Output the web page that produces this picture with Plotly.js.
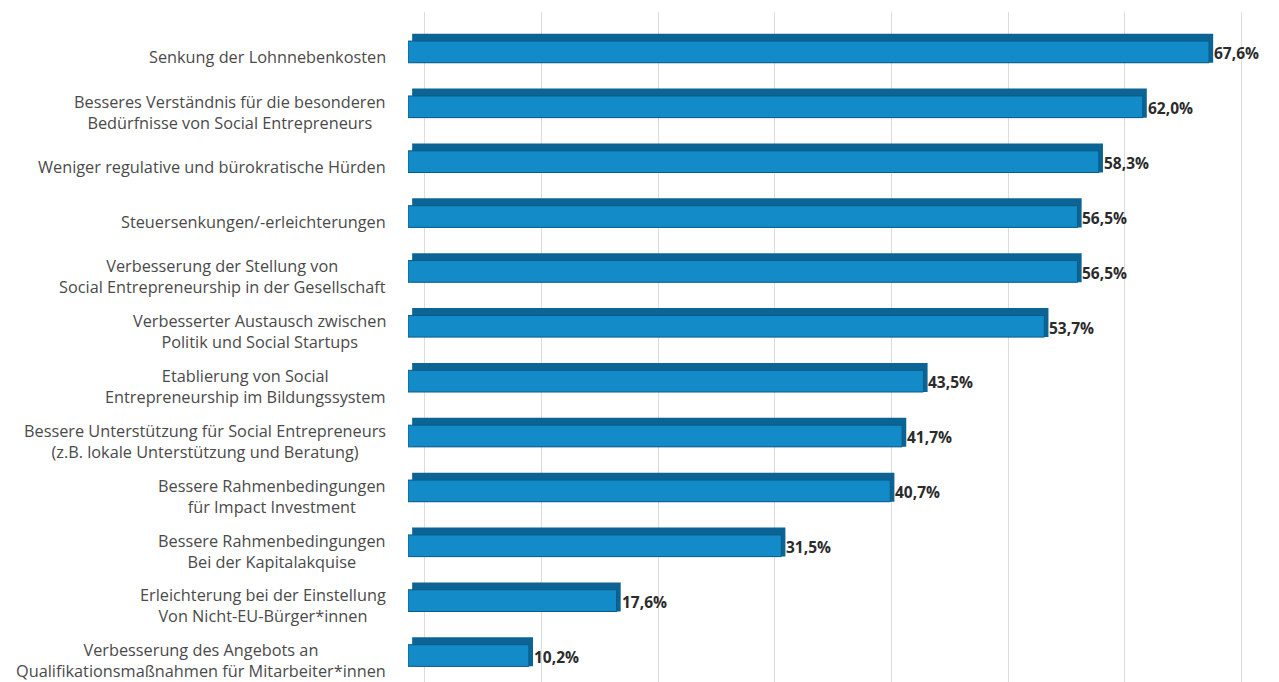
<!DOCTYPE html>
<html>
<head>
<meta charset="utf-8">
<script src="https://cdn.plot.ly/plotly-3.0.1.min.js"></script>
<style>html,body{margin:0;padding:0;background:#fff;}#chart{width:1279px;height:682px;}</style>
</head>
<body>
<div id="chart"></div>
<script>
const categories = [
  "Senkung der Lohnnebenkosten",
  "Besseres Verständnis für die besonderen<br>Bedürfnisse von Social Entrepreneurs",
  "Weniger regulative und bürokratische Hürden",
  "Steuersenkungen/-erleichterungen",
  "Verbesserung der Stellung von<br>Social Entrepreneurship in der Gesellschaft",
  "Verbesserter Austausch zwischen<br>Politik und Social Startups",
  "Etablierung von Social<br>Entrepreneurship im Bildungssystem",
  "Bessere Unterstützung für Social Entrepreneurs<br>(z.B. lokale Unterstützung und Beratung)",
  "Bessere Rahmenbedingungen<br>für Impact Investment",
  "Bessere Rahmenbedingungen<br>Bei der Kapitalakquise",
  "Erleichterung bei der Einstellung<br>Von Nicht-EU-Bürger*innen",
  "Verbesserung des Angebots an<br>Qualifikationsmaßnahmen für Mitarbeiter*innen"
];
const values = [67.6, 62.0, 58.3, 56.5, 56.5, 53.7, 43.5, 41.7, 40.7, 31.5, 17.6, 10.2];
const valueLabels = values.map(v => v.toFixed(1).replace(".", ",") + "%");

const idx = categories.map((c, i) => i);
const FONT = "Open Sans, Liberation Sans, sans-serif";

const topFace = {
  type: "bar", orientation: "h",
  y: idx, x: values, base: 0.35,
  width: 0.53, offset: -0.265,
  marker: {color: "#0b6494", line: {width: 0}},
  hoverinfo: "skip", showlegend: false
};
const frontFace = {
  type: "bar", orientation: "h",
  y: idx, x: values,
  width: 0.395, offset: -0.13,
  marker: {color: "#138bc8", line: {color: "#0a5c88", width: 1}},
  hoverinfo: "skip", showlegend: false
};

const annotations = [];
categories.forEach((c, i) => {
  annotations.push({
    x: 0, y: i, xref: "x", yref: "y", text: c,
    xanchor: "right", yanchor: "middle", align: "center",
    xshift: -20, yshift: -9, showarrow: false,
    font: {family: FONT, size: 16.3, color: "#4a4a4a"}
  });
  annotations.push({
    x: values[i], y: i, xref: "x", yref: "y", text: "<b>" + valueLabels[i] + "</b>",
    xanchor: "left", yanchor: "middle", xshift: 3, yshift: -5, showarrow: false,
    font: {family: FONT, size: 15.5, color: "#2b2b2b"}
  });
});

const layout = {
  width: 1279, height: 682,
  margin: {l: 408, r: 6, t: 12, b: 0},
  paper_bgcolor: "#ffffff", plot_bgcolor: "#ffffff",
  barmode: "overlay",
  xaxis: {
    range: [0, 73], showgrid: true, gridcolor: "#dcdcdc", gridwidth: 1,
    tick0: 1.4, dtick: 9.85, showticklabels: false, ticks: "",
    zeroline: false, showline: false, fixedrange: true
  },
  yaxis: {
    range: [11.55, -0.66], showticklabels: false, ticks: "",
    showgrid: false, zeroline: false, showline: false, fixedrange: true
  },
  annotations: annotations
};

Plotly.newPlot("chart", [topFace, frontFace], layout, {staticPlot: true, displayModeBar: false});
</script>
</body>
</html>
